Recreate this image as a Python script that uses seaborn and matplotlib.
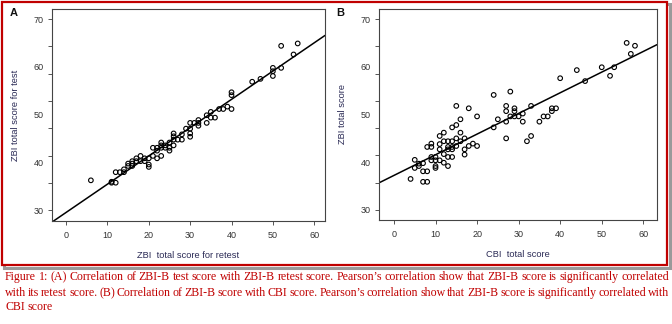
import numpy as np
import pandas as pd
import matplotlib
matplotlib.use("Agg")
import matplotlib.pyplot as plt
import seaborn as sns
from matplotlib.patches import Rectangle

# ---- data ----
retest_x = [6, 11, 12, 11, 12, 13, 14, 14, 15, 15, 16, 16, 16, 17, 17, 18, 18, 19, 19,
            20, 20, 20, 21, 21, 22, 22, 22, 23, 23, 23, 23, 24, 24, 25, 25, 25,
            26, 26, 26, 26, 27, 28, 28, 29, 30, 30, 30, 30, 31, 32, 32, 32,
            34, 34, 35, 35, 36, 37, 38, 39, 40, 40, 40, 45, 47, 50, 50, 50, 52, 52, 55, 56]
test_y = [36.3, 35.8, 35.8, 36.0, 38.0, 38.0, 38.0, 38.6, 39.3, 39.8, 39.3, 39.8, 40.3, 40.3, 40.9,
          40.3, 41.4, 40.3, 40.9, 39.1, 39.6, 40.9, 41.4, 43.1, 43.1, 40.9, 42.5, 43.1, 41.4, 44.2,
          43.6, 43.1, 43.6, 44.2, 43.1, 42.5, 46.1, 45.5, 44.8, 43.6, 44.8, 44.8, 45.9, 47.1,
          47.1, 46.1, 45.4, 48.3, 48.3, 48.3, 48.9, 47.7, 48.3, 49.9, 49.4, 50.6, 49.4, 51.2,
          51.2, 51.7, 54.7, 54.1, 51.2, 56.9, 57.5, 59.8, 59.1, 58.1, 59.8, 64.4, 62.6, 64.9]

cbi_x = [4, 5, 5, 6, 6, 7, 8, 7, 8, 7, 8, 9, 9, 9, 9, 10, 10, 10, 10,
         11, 11, 11, 11, 12, 12, 12, 12, 13, 13, 13, 13, 13, 14, 14, 14, 14, 14,
         15, 15, 15, 15, 16, 16, 16, 17, 17, 17, 18, 18, 19, 20, 20, 24, 24, 25,
         27, 27, 27, 27, 28, 28, 29, 29, 29, 30, 31, 31, 32, 33, 33, 35, 36, 37,
         38, 38, 39, 40, 44, 46, 50, 52, 53, 56, 57, 58]
zbi_y = [36.5, 40.5, 38.8, 39.2, 39.7, 35.9, 35.9, 38.1, 38.1, 39.8, 43.2, 43.9, 43.2, 41.1, 40.4,
         41.1, 40.4, 39.2, 38.8, 45.5, 43.8, 42.7, 40.4, 46.2, 44.4, 41.7, 39.9,
         44.4, 43.2, 42.7, 41.1, 39.2, 47.3, 44.4, 43.2, 42.7, 41.1,
         51.8, 47.8, 45.0, 43.4, 49.0, 46.2, 44.4, 45.0, 42.7, 41.6, 51.3, 43.4, 43.9, 49.6, 43.4,
         54.1, 47.3, 49.0, 51.8, 50.7, 48.5, 45.0, 54.8, 49.6, 51.3, 50.7, 49.6, 49.6,
         50.2, 48.5, 44.4, 51.8, 45.5, 48.5, 49.6, 49.6, 50.7, 51.3, 51.3, 57.6, 59.3, 57.0,
         59.9, 58.1, 59.9, 65.0, 62.7, 64.4]

x_ticks = [0, 10, 20, 30, 40, 50, 60]
y_labels = [30, 40, 50, 60, 70]

caption = [
    "Figure 1: (A) Correlation of ZBI-B test score with ZBI-B retest score. Pearson\u2019s correlation show that ZBI-B score is significantly correlated",
    "with its retest score. (B) Correlation of ZBI-B score with CBI score. Pearson\u2019s correlation show that ZBI-B score is significantly correlated with",
    "CBI score",
]

dfA = pd.DataFrame({"x": retest_x, "y": test_y})
dfB = pd.DataFrame({"x": cbi_x, "y": zbi_y})

sns.set_theme(style="white")
plt.rcParams["font.family"] = ["Liberation Sans", "DejaVu Sans"]

W, H = 672, 324
fig = plt.figure(figsize=(W / 100, H / 100), dpi=100)

def px_axes(l, t, r, b):
    return fig.add_axes([l / W, 1 - b / H, (r - l) / W, (b - t) / H])

axA = px_axes(52, 9, 325, 221)
axB = px_axes(379, 9, 657, 220)

tick_col = "#333333"
lab_col = "#2a2a55"

def style(ax, df, xlim, ylim, xlabel, ylabel):
    ax.set_xlim(*xlim)
    ax.set_ylim(*ylim)
    sns.scatterplot(data=df, x="x", y="y", ax=ax, marker="o", s=11,
                    facecolor="none", edgecolor="black", linewidth=0.8)
    sns.regplot(data=df, x="x", y="y", ax=ax, scatter=False, ci=None, truncate=False,
                line_kws={"color": "black", "linewidth": 1.1})
    ax.set_xlim(*xlim)
    ax.set_ylim(*ylim)
    ax.set_xticks(x_ticks)
    ax.set_xticklabels([str(v) for v in x_ticks], fontsize=6.5, color=tick_col)
    ax.yaxis.remove_overlapping_locs = False
    ax.set_yticks(y_labels, labels=[str(v) for v in y_labels])
    ax.set_yticks(np.linspace(30, 70, 8), minor=True)
    ax.tick_params(axis="y", which="major", length=0, labelsize=6.5, labelcolor=tick_col, pad=6, left=True)
    ax.tick_params(axis="y", which="minor", length=3, width=0.7, color="#555555", direction="out", left=True)
    ax.tick_params(axis="x", length=3, width=0.7, color="#555555", direction="out", bottom=True, pad=4)
    for s in ax.spines.values():
        s.set_color("#444444")
        s.set_linewidth(0.8)
    ax.set_xlabel(xlabel, fontsize=6.7, color=lab_col, labelpad=8)
    ax.set_ylabel(ylabel, fontsize=6.7, color=lab_col, labelpad=10)

style(axA, dfA, (-3.4, 62.6), (27.8, 72.1), "ZBI  total score for retest", "ZBI total score for test")
style(axB, dfB, (-3.6, 63.3), (27.9, 72.1), "CBI  total score", "ZBI total score")

fig.text(14 / W, 1 - 13 / H, "A", fontsize=8, fontweight="bold", ha="center", va="center", color="#111111")
fig.text(340 / W, 1 - 13 / H, "B", fontsize=8, fontweight="bold", ha="center", va="center", color="#111111")

# frame with shadow
fig.patches.append(Rectangle((4 / W, 1 - 268 / H), 666 / W, 264 / H, transform=fig.transFigure,
                             facecolor="none", edgecolor="#9a9a9a", linewidth=2.2, zorder=-1))
fig.patches.append(Rectangle((1.5 / W, 1 - 265 / H), 665 / W, 263 / H, transform=fig.transFigure,
                             facecolor="white", edgecolor="#c00000", linewidth=1.6, zorder=0))
for ax in (axA, axB):
    ax.set_zorder(2)

# caption (justified lines)
cap_kw = dict(fontsize=8.6, color="#c00000", family=["Liberation Serif", "DejaVu Serif"], va="center")
renderer = fig.canvas.get_renderer()
ys = [277, 293, 307]
x0, x1 = 5, 669
for i, (line, yy) in enumerate(zip(caption, ys)):
    words = line.split(" ")
    texts = [fig.text(0, 1 - yy / H, w, **cap_kw) for w in words]
    widths = [t.get_window_extent(renderer).width for t in texts]
    if i < len(caption) - 1 and len(words) > 1:
        gap = (x1 - x0 - sum(widths)) / (len(words) - 1)
    else:
        sp = fig.text(0, 0, "a a", **cap_kw)
        sp2 = fig.text(0, 0, "aa", **cap_kw)
        gap = sp.get_window_extent(renderer).width - sp2.get_window_extent(renderer).width
        sp.remove(); sp2.remove()
    x = x0
    for t, w in zip(texts, widths):
        t.set_x(x / W)
        x += w + gap

fig.savefig("out.png", dpi=100)
